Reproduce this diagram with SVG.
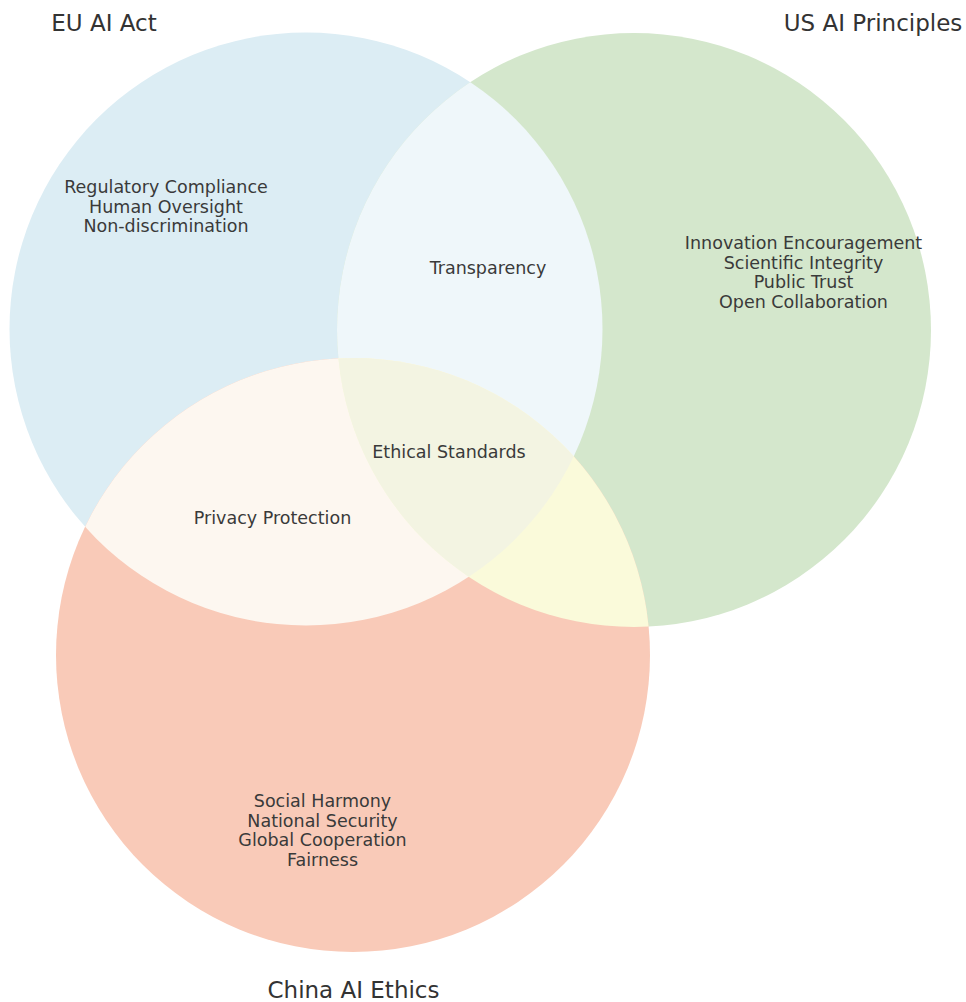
<svg xmlns="http://www.w3.org/2000/svg" width="966" height="1002" viewBox="0 0 966 1002">
<style>
  .lbl { font-family: "DejaVu Sans", "Liberation Sans", sans-serif; font-size: 17.5px; fill: #3a3a3a; text-anchor: middle; }
  .ttl { font-family: "DejaVu Sans", "Liberation Sans", sans-serif; font-size: 23px; fill: #333333; text-anchor: middle; }
</style>
<defs>
  <clipPath id="clipEU"><circle cx="306" cy="329" r="296.5"/></clipPath>
  <clipPath id="clipUS"><circle cx="634" cy="330" r="297"/></clipPath>
  <clipPath id="clipCN"><circle cx="353" cy="655" r="297"/></clipPath>
</defs>
<rect width="966" height="1002" fill="#ffffff"/>
<g id="eu">
  <circle cx="306" cy="329" r="296.5" fill="#dcedf4"/>
</g>
<g id="us">
  <circle cx="634" cy="330" r="297" fill="#d4e7cc"/>
</g>
<g id="china">
  <circle cx="353" cy="655" r="297" fill="#f9cab8"/>
</g>
<g id="eu-us">
  <circle cx="634" cy="330" r="297" fill="#eff7fa" clip-path="url(#clipEU)"/>
</g>
<g id="eu-china">
  <circle cx="353" cy="655" r="297" fill="#fdf7f0" clip-path="url(#clipEU)"/>
</g>
<g id="us-china">
  <circle cx="353" cy="655" r="297" fill="#fafada" clip-path="url(#clipUS)"/>
</g>
<g id="all-three">
  <g clip-path="url(#clipUS)">
    <circle cx="353" cy="655" r="297" fill="#f3f4e2" clip-path="url(#clipEU)"/>
  </g>
</g>
<g id="connectors"></g>
<g id="labels">
  <text class="lbl" x="166" y="193">Regulatory Compliance</text>
  <text class="lbl" x="166" y="212.5">Human Oversight</text>
  <text class="lbl" x="166" y="232">Non-discrimination</text>
  <text class="lbl" x="803.5" y="249">Innovation Encouragement</text>
  <text class="lbl" x="803.5" y="268.5">Scientific Integrity</text>
  <text class="lbl" x="803.5" y="288">Public Trust</text>
  <text class="lbl" x="803.5" y="307.5">Open Collaboration</text>
  <text class="lbl" x="322.5" y="807">Social Harmony</text>
  <text class="lbl" x="322.5" y="826.5">National Security</text>
  <text class="lbl" x="322.5" y="846">Global Cooperation</text>
  <text class="lbl" x="322.5" y="865.5">Fairness</text>
  <text class="lbl" x="488" y="274">Transparency</text>
  <text class="lbl" x="449" y="458">Ethical Standards</text>
  <text class="lbl" x="272.5" y="524">Privacy Protection</text>
</g>
<g id="titles">
  <text class="ttl" x="104" y="31">EU AI Act</text>
  <text class="ttl" x="873" y="31">US AI Principles</text>
  <text class="ttl" x="353.5" y="998">China AI Ethics</text>
</g>
</svg>
